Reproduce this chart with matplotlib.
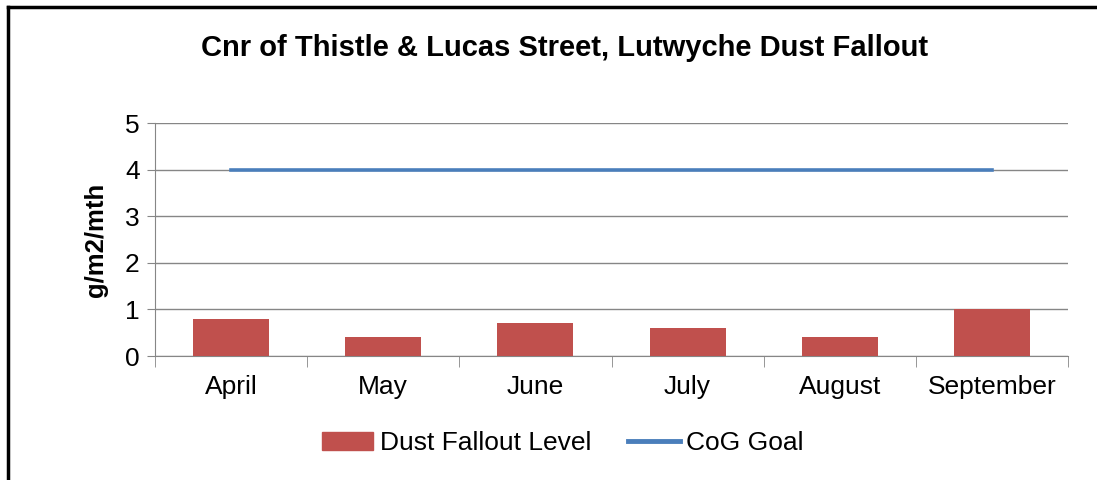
import matplotlib.pyplot as plt
from matplotlib.patches import Rectangle
from matplotlib.lines import Line2D

plt.rcParams['font.family'] = ['Liberation Sans', 'DejaVu Sans']

months = ['April', 'May', 'June', 'July', 'August', 'September']
dust_fallout = [0.8, 0.4, 0.7, 0.6, 0.4, 1.0]
cog_goal = [4, 4, 4, 4, 4, 4]

bar_color = '#c0504d'
line_color = '#4a7ebb'
grid_color = '#868686'

fig = plt.figure(figsize=(10.97, 4.8), dpi=100)
ax = fig.add_axes([155 / 1097, 1 - 356 / 480, (1068 - 155) / 1097, (356 - 123) / 480])

x = list(range(len(months)))
ax.bar(x, dust_fallout, width=0.5, color=bar_color, zorder=3, label='Dust Fallout Level')
ax.plot(x, cog_goal, color=line_color, lw=2.6, zorder=4, label='CoG Goal')

ax.set_xlim(-0.5, len(months) - 0.5)
ax.set_ylim(0, 5)
ax.set_yticks(range(0, 6))
ax.yaxis.grid(True, color=grid_color, lw=1)
ax.set_axisbelow(True)

ax.set_xticks(x)
ax.set_xticklabels(months, fontsize=19)
ax.tick_params(axis='x', length=0, pad=14)
ax.set_xticks([i - 0.5 for i in range(len(months) + 1)], minor=True)
ax.tick_params(axis='x', which='minor', length=8, color=grid_color, direction='out')
ax.tick_params(axis='y', labelsize=19, length=6, color=grid_color, pad=5)

for side in ['top', 'right']:
    ax.spines[side].set_visible(False)
for side in ['left', 'bottom']:
    ax.spines[side].set_color(grid_color)

ax.set_ylabel('g/m2/mth', fontsize=18.5, fontweight='bold', labelpad=12)
fig.text(565 / 1097, 1 - 48 / 480, 'Cnr of Thistle & Lucas Street, Lutwyche Dust Fallout',
         ha='center', va='center', fontsize=21, fontweight='bold')

handles = [Rectangle((0, 0), 1, 1, color=bar_color),
           Line2D([], [], color=line_color, lw=3.5)]
fig.legend(handles, ['Dust Fallout Level', 'CoG Goal'], loc='center',
           bbox_to_anchor=(563 / 1097, 1 - 443 / 480), ncol=2, frameon=False,
           fontsize=19, handlelength=1.95, handletextpad=0.25, columnspacing=1.4)

# outer chart border
fig.add_artist(Line2D([8 / 1097, 8 / 1097], [0, 1 - 7 / 480], color='black', lw=2.5,
                      transform=fig.transFigure))
fig.add_artist(Line2D([8 / 1097, 1], [1 - 7 / 480, 1 - 7 / 480], color='black', lw=2.5,
                      transform=fig.transFigure))

fig.savefig('out.png', dpi=100)
